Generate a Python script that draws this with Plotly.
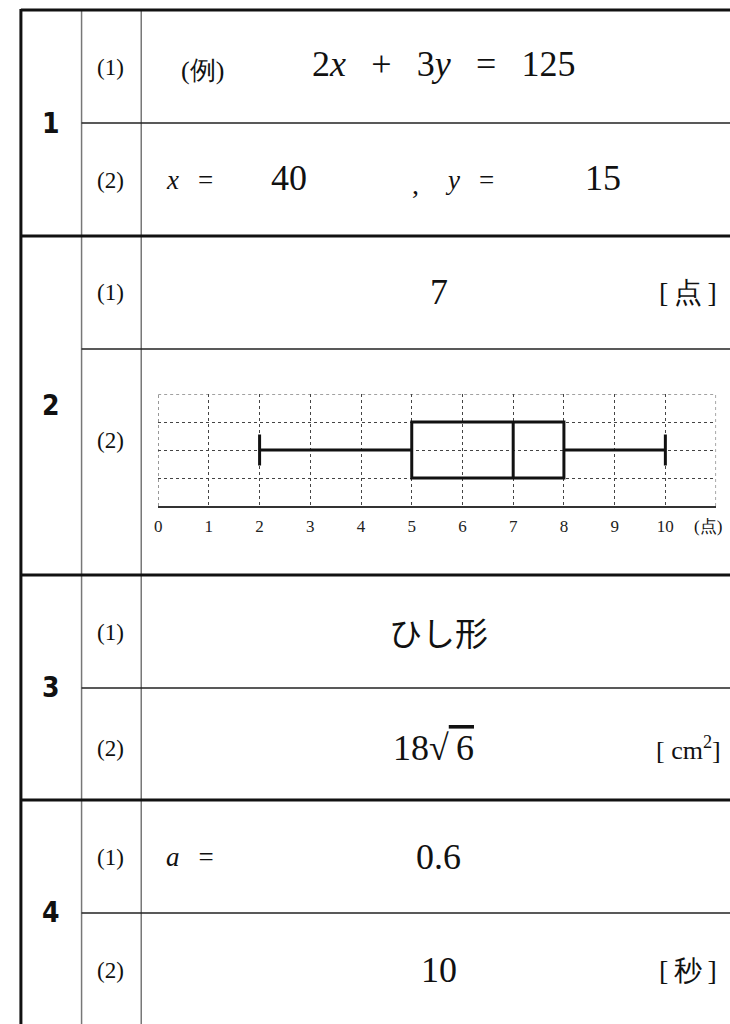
"""解答用紙（数学）の再現"""
import plotly.graph_objects as go

W, H = 730, 1024

# 箱ひげ図の値
box_min = [2]
box_q1 = [5]
box_median = [7]
box_q3 = [8]
box_max = [10]
score_ticks = list(range(11))
score_labels = [str(i) for i in score_ticks]
score_unit = "(点)"

# 大問・小問
section_labels = ["1", "2", "3", "4"]
sub_labels = ["(1)", "(2)"]

# 解答
SP = "\u2002\u2009"
ans_1_1 = f"2<i>x</i>{SP}+{SP}3<i>y</i>{SP}={SP}125"
ans_1_2 = ["40", "15"]
ans_2_1 = "7"
ans_3_1 = "ひし形"
ans_3_2 = "18√<span style='text-decoration:overline'>\u20096</span>"
ans_4_1 = "0.6"
ans_4_2 = "10"
units = ["[\u2009点\u2009]", "[ cm<sup>2</sup>]", "[\u2009秒\u2009]"]

# 表の罫線位置 (px)
X_LEFT, X_COL2, X_COL3 = 17, 78, 138
row_top = [10, 236, 575, 800]
row_mid = [123, 349, 688, 913]
row_bot = [236, 575, 800, 1024]
sub_y = [[67, 180], [292, 440], [632, 748], [857, 970]]

# 箱ひげ図の枠 (px)
GX0, GX1, GY0, GY1 = 155, 716, 394, 506

SERIF = "Liberation Serif"
JP = "Noto Sans CJK JP"
BOLD_NUM = "DejaVu Sans Condensed"

fig = go.Figure()
fig.add_trace(go.Box(
    y=[2], orientation="h",
    lowerfence=box_min, q1=box_q1, median=box_median, q3=box_q3, upperfence=box_max,
    width=2, whiskerwidth=0.55,
    line=dict(color="#111", width=3),
    fillcolor="rgba(0,0,0,0)",
    boxpoints=False, hoverinfo="skip", showlegend=False,
    xaxis="x2", yaxis="y2",
))

shapes = []
thick = dict(color="#111", width=3)
thin = dict(color="#222", width=1.5)
grey = dict(color="#777", width=1.5)
shapes.append(dict(type="line", x0=X_LEFT, x1=X_LEFT, y0=row_top[0] - 1, y1=H, line=thick))
for xc in (X_COL2, X_COL3):
    shapes.append(dict(type="line", x0=xc, x1=xc, y0=row_top[0], y1=H, line=grey))
for yt in row_top:
    shapes.append(dict(type="line", x0=X_LEFT, x1=W, y0=yt, y1=yt, line=thick))
for ym in row_mid:
    shapes.append(dict(type="line", x0=X_COL2, x1=W, y0=ym, y1=ym, line=thin))
for s in shapes:
    s.update(xref="x", yref="y", layer="above")

# 方眼の外枠（点線）
dot = dict(color="#444", width=1, dash="dot")
shapes += [
    dict(type="line", xref="x2", yref="y2", x0=0, x1=11, y0=4, y1=4, line=dot),
    dict(type="line", xref="x2", yref="y2", x0=0, x1=0, y0=0, y1=4, line=dot),
    dict(type="line", xref="x2", yref="y2", x0=11, x1=11, y0=0, y1=4, line=dot),
]

ann = []


def add(x, y, text, size, family=SERIF, **kw):
    ann.append(dict(x=x, y=y, xref="x", yref="y", text=text, showarrow=False,
                    xanchor="center", yanchor="middle",
                    font=dict(family=family, size=size, color="#111", **kw)))


for i, lab in enumerate(section_labels):
    add(47, (row_top[i] + row_bot[i]) / 2, lab, 28, family=BOLD_NUM, weight="bold")
    for j, sl in enumerate(sub_labels):
        add(107, sub_y[i][j], sl, 23)

add(200, 70, "(例)", 26)
add(442, 64, ans_1_1, 36)
add(187, 180, f"<i>x</i>{SP}=", 27)
add(287, 178, ans_1_2[0], 36)
add(414, 184, ",", 28)
add(468, 180, f"<i>y</i>{SP}=", 27)
add(602, 178, ans_1_2[1], 36)
add(437, 292, ans_2_1, 36)
add(688, 292, units[0], 28)
add(437, 632, ans_3_1, 33, family=JP)
add(432, 748, ans_3_2, 36)
add(688, 748, units[1], 26)
add(187, 857, f"<i>a</i>{SP}=", 27)
add(437, 857, ans_4_1, 36)
add(437, 970, ans_4_2, 36)
add(688, 970, units[2], 28)
add(708, 526, score_unit, 17)   # 目盛りの単位

fig.update_layout(
    width=W, height=H, autosize=False,
    margin=dict(l=0, r=0, t=0, b=0),
    paper_bgcolor="white", plot_bgcolor="rgba(0,0,0,0)",
    xaxis=dict(range=[0, W], visible=False, fixedrange=True, domain=[0, 1]),
    yaxis=dict(range=[H, 0], visible=False, fixedrange=True, domain=[0, 1]),
    xaxis2=dict(
        domain=[GX0 / W, GX1 / W], range=[0, 11], anchor="y2",
        tickvals=score_ticks, ticktext=score_labels, ticks="",
        showgrid=True, gridcolor="#444", griddash="dot", gridwidth=1,
        showline=True, linecolor="#333", linewidth=2, zeroline=False,
        tickfont=dict(family=SERIF, size=17, color="#222"), ticklabelstandoff=4,
        fixedrange=True,
    ),
    yaxis2=dict(
        domain=[1 - GY1 / H, 1 - GY0 / H], range=[0, 4], anchor="x2",
        tickvals=[0, 1, 2, 3, 4], showticklabels=False, ticks="",
        showgrid=True, gridcolor="#444", griddash="dot", gridwidth=1,
        zeroline=False, fixedrange=True,
    ),
    shapes=shapes,
    annotations=ann,
)

# ページの余白とスクロールバーを消して 730x1024 にぴったり合わせる
fig.write_html(
    "out.html",
    config={"responsive": False, "displayModeBar": False, "staticPlot": True},
    post_script="document.body.style.margin='0';"
                "document.documentElement.style.overflow='hidden';",
)
